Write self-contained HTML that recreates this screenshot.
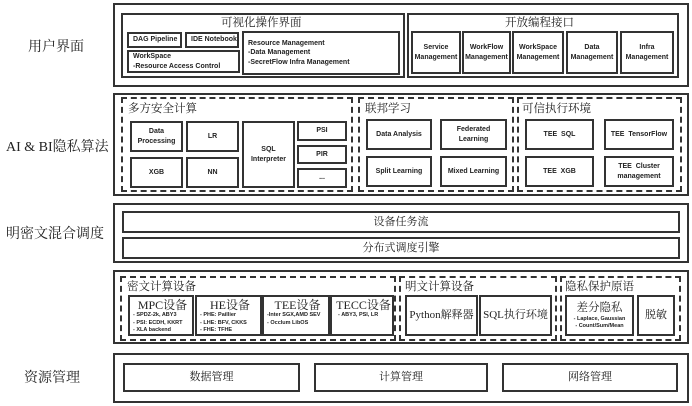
<!DOCTYPE html>
<html><head><meta charset="utf-8"><style>
body{margin:0;width:692px;height:406px;background:#fff;position:relative;overflow:hidden;font-family:"Liberation Sans","Noto Sans CJK SC",sans-serif;color:#222}
.b{position:absolute;box-sizing:border-box;border:2px solid #333;background:#fff}
.o{border:2px solid #333}
.d{border:2px dashed #333;background:transparent}
.c{display:flex;align-items:center;justify-content:center;text-align:center;font-size:7px;line-height:1.3;font-weight:bold}
.t{position:absolute;font-family:"Liberation Serif","Noto Serif CJK SC",serif;font-size:11.5px;color:#222}
.L{position:absolute;font-family:"Liberation Serif","Noto Serif CJK SC",serif;font-size:14px;color:#222;white-space:nowrap}
.s{font-family:"Liberation Serif","Noto Serif CJK SC",serif;font-size:11px;font-weight:normal}
.l{text-align:left;justify-content:flex-start;padding-left:4px}
.dev{position:absolute;box-sizing:border-box;border:2px solid #333;text-align:left;font-size:5.5px;line-height:1.35;padding:2px 0 0 3px;font-weight:bold}
.dev .h{font-family:"Liberation Serif","Noto Serif CJK SC",serif;font-size:12px;text-align:center;line-height:1.1;font-weight:normal}
</style></head><body>
<div class="L" style="left:28px;top:36px">用户界面</div>
<div class="L" style="left:6px;top:136px">AI &amp; BI隐私算法</div>
<div class="L" style="left:6px;top:223px">明密文混合调度</div>
<div class="L" style="left:24px;top:367px">资源管理</div>

<div class="b o" style="left:113px;top:3px;width:576px;height:84px"></div>
<div class="b o" style="left:113px;top:93px;width:576px;height:103px"></div>
<div class="b o" style="left:113px;top:203px;width:576px;height:60px"></div>
<div class="b o" style="left:113px;top:270px;width:576px;height:74px"></div>
<div class="b o" style="left:113px;top:353px;width:576px;height:50px"></div>

<!-- row1 -->
<div class="b" style="left:121px;top:13px;width:284px;height:65px"></div>
<div class="t" style="left:221px;top:14px">可视化操作界面</div>
<div class="b c l" style="left:127px;top:32px;width:55px;height:16px">DAG Pipeline</div>
<div class="b c l" style="left:185px;top:32px;width:54px;height:16px">IDE Notebook</div>
<div class="b c l" style="left:127px;top:50px;width:113px;height:23px;text-align:left">WorkSpace<br>-Resource Access Control</div>
<div class="b c l" style="left:242px;top:31px;width:158px;height:44px;text-align:left">Resource Management<br>-Data Management<br>-SecretFlow Infra Management</div>
<div class="b" style="left:407px;top:13px;width:272px;height:65px"></div>
<div class="t" style="left:505px;top:14px">开放编程接口</div>
<div class="b c" style="left:411px;top:31px;width:50px;height:43px">Service<br>Management</div>
<div class="b c" style="left:462px;top:31px;width:49px;height:43px">WorkFlow<br>Management</div>
<div class="b c" style="left:512px;top:31px;width:52px;height:43px">WorkSpace<br>Management</div>
<div class="b c" style="left:566px;top:31px;width:52px;height:43px">Data<br>Management</div>
<div class="b c" style="left:620px;top:31px;width:54px;height:43px">Infra<br>Management</div>

<!-- row2 -->
<div class="b d" style="left:121px;top:97px;width:232px;height:95px"></div>
<div class="t" style="left:128px;top:100px">多方安全计算</div>
<div class="b c" style="left:130px;top:121px;width:53px;height:31px">Data<br>Processing</div>
<div class="b c" style="left:186px;top:121px;width:53px;height:31px">LR</div>
<div class="b c" style="left:130px;top:157px;width:53px;height:31px">XGB</div>
<div class="b c" style="left:186px;top:157px;width:53px;height:31px">NN</div>
<div class="b c" style="left:242px;top:121px;width:53px;height:67px">SQL<br>Interpreter</div>
<div class="b c" style="left:297px;top:121px;width:50px;height:20px">PSI</div>
<div class="b c" style="left:297px;top:145px;width:50px;height:19px">PIR</div>
<div class="b c" style="left:297px;top:168px;width:50px;height:20px">...</div>

<div class="b d" style="left:358px;top:97px;width:156px;height:95px"></div>
<div class="t" style="left:365px;top:100px">联邦学习</div>
<div class="b c" style="left:366px;top:119px;width:66px;height:31px">Data Analysis</div>
<div class="b c" style="left:440px;top:119px;width:67px;height:31px">Federated<br>Learning</div>
<div class="b c" style="left:366px;top:156px;width:66px;height:31px">Split Learning</div>
<div class="b c" style="left:440px;top:156px;width:67px;height:31px">Mixed Learning</div>

<div class="b d" style="left:517px;top:97px;width:165px;height:95px"></div>
<div class="t" style="left:522px;top:100px">可信执行环境</div>
<div class="b c" style="left:525px;top:119px;width:69px;height:31px">TEE&nbsp; SQL</div>
<div class="b c" style="left:604px;top:119px;width:70px;height:31px">TEE&nbsp; TensorFlow</div>
<div class="b c" style="left:525px;top:156px;width:69px;height:31px">TEE&nbsp; XGB</div>
<div class="b c" style="left:604px;top:156px;width:70px;height:31px">TEE&nbsp; Cluster<br>management</div>

<!-- row3 -->
<div class="b c s" style="left:122px;top:211px;width:558px;height:22px">设备任务流</div>
<div class="b c s" style="left:122px;top:237px;width:558px;height:22px">分布式调度引擎</div>

<!-- row4 -->
<div class="b d" style="left:120px;top:276px;width:276px;height:65px"></div>
<div class="t" style="left:127px;top:278px">密文计算设备</div>
<div class="dev" style="left:128px;top:295px;width:66px;height:41px"><div class="h">MPC设备</div>- SPDZ-2k, ABY3<br>- PSI: ECDH, KKRT<br>- XLA backend</div>
<div class="dev" style="left:195px;top:295px;width:67px;height:41px"><div class="h">HE设备</div>- PHE: Paillier<br>- LHE: BFV, CKKS<br>- FHE: TFHE</div>
<div class="dev" style="left:262px;top:295px;width:68px;height:41px"><div class="h">TEE设备</div>-Inter SGX,AMD SEV<br>- Occlum LibOS</div>
<div class="dev" style="left:330px;top:295px;width:64px;height:41px"><div class="h">TECC设备</div>&nbsp;&nbsp;- ABY3, PSI, LR</div>

<div class="b d" style="left:399px;top:276px;width:158px;height:65px"></div>
<div class="t" style="left:405px;top:278px">明文计算设备</div>
<div class="b c s" style="left:405px;top:295px;width:73px;height:41px">Python解释器</div>
<div class="b c s" style="left:479px;top:295px;width:73px;height:41px">SQL执行环境</div>

<div class="b d" style="left:560px;top:276px;width:121px;height:65px"></div>
<div class="t" style="left:565px;top:278px">隐私保护原语</div>
<div class="b c" style="left:565px;top:295px;width:69px;height:41px;font-size:5.5px"><div><span class="s" style="font-size:11.5px">差分隐私</span><br>- Laplace, Gaussian<br>- Count/Sum/Mean</div></div>
<div class="b c s" style="left:637px;top:295px;width:38px;height:41px">脱敏</div>

<!-- row5 -->
<div class="b c s" style="left:123px;top:363px;width:177px;height:29px">数据管理</div>
<div class="b c s" style="left:314px;top:363px;width:174px;height:29px">计算管理</div>
<div class="b c s" style="left:502px;top:363px;width:176px;height:29px">网络管理</div>
</body></html>
